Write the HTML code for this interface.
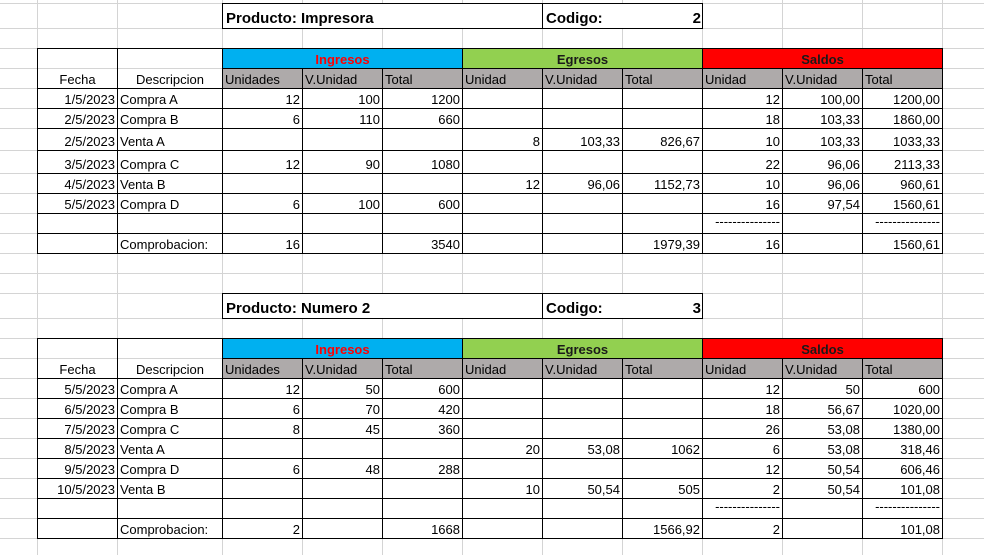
<!DOCTYPE html>
<html><head><meta charset="utf-8">
<style>
body{margin:0;width:984px;height:555px;overflow:hidden;background:#fff;position:relative;font-family:"Liberation Sans",Arial,sans-serif;font-size:13px;color:#000}
.g{position:absolute;background:#d4d4d4}
.c{position:absolute;box-sizing:border-box;display:flex;align-items:flex-end;padding:0 2px 1px 2px;white-space:nowrap;overflow:hidden;line-height:15px}
.r{justify-content:flex-end}.l{justify-content:flex-start}.m{justify-content:center}
</style></head>
<body>
<div id="sheet"></div>
<script>
const X=[0,37,117,222,302,382,462,542,622,702,782,862,942,984];
const Y=[-17,3,28,48,68,88,108,128,150,173,193,213,233,253,273,293,318,338,358,378,398,418,438,458,478,498,518,538,558];
const subHeaders=["Unidades","V.Unidad","Total","Unidad","V.Unidad","Total","Unidad","V.Unidad","Total"];
const groups=["Ingresos","Egresos","Saldos"];
const table1Rows=[
["1/5/2023","Compra A","12","100","1200","","","","12","100,00","1200,00"],
["2/5/2023","Compra B","6","110","660","","","","18","103,33","1860,00"],
["2/5/2023","Venta A","","","","8","103,33","826,67","10","103,33","1033,33"],
["3/5/2023","Compra C","12","90","1080","","","","22","96,06","2113,33"],
["4/5/2023","Venta B","","","","12","96,06","1152,73","10","96,06","960,61"],
["5/5/2023","Compra D","6","100","600","","","","16","97,54","1560,61"],
["","","","","","","","","---------------","","---------------"],
["","Comprobacion:","16","","3540","","","1979,39","16","","1560,61"]];
const table2Rows=[
["5/5/2023","Compra A","12","50","600","","","","12","50","600"],
["6/5/2023","Compra B","6","70","420","","","","18","56,67","1020,00"],
["7/5/2023","Compra C","8","45","360","","","","26","53,08","1380,00"],
["8/5/2023","Venta A","","","","20","53,08","1062","6","53,08","318,46"],
["9/5/2023","Compra D","6","48","288","","","","12","50,54","606,46"],
["10/5/2023","Venta B","","","","10","50,54","505","2","50,54","101,08"],
["","","","","","","","","---------------","","---------------"],
["","Comprobacion:","2","","1668","","","1566,92","2","","101,08"]];
const products=["Impresora","Numero 2"];
const codes=["2","3"];
const S=document.getElementById('sheet');
for(let i=1;i<X.length-1;i++){const d=document.createElement('div');d.className='g';d.style.cssText=`left:${X[i]}px;top:0;width:1px;height:555px`;


S.appendChild(d);}
for(let j=1;j<Y.length-1;j++){const d=document.createElement('div');d.className='g';d.style.cssText=`left:0;top:${Y[j]}px;width:984px;height:1px`;


S.appendChild(d);}
function cell(c1,c2,r1,r2,txt,cls,name,extra){
 const d=document.createElement('div');d.className='c '+cls;
 d.style.left=X[c1]+'px';d.style.top=Y[r1]+'px';
 d.style.width=(X[c2]-X[c1]+1)+'px';d.style.height=(Y[r2]-Y[r1]+1)+'px';
 if(extra)d.style.cssText+=extra;
 d.textContent=txt;
 
 
 S.appendChild(d);return d;}
function table(t,r0,rows){
 cell(3,9,r0,r0+1,'','l','title-box','border:1px solid #000;background:#fff;');
 cell(7,9,r0,r0+1,'','l','code-box','border-left:1px solid #000;');
 const tf='font-weight:bold;font-size:15px;padding-bottom:3px;overflow:visible;';
 cell(3,4,r0,r0+1,'Producto:','l','product-label',tf+'padding-left:4px;');
 cell(4,7,r0,r0+1,products[t],'l','product-name',tf+'padding-left:0;left:'+(X[3]+79)+'px;');
 cell(7,8,r0,r0+1,'Codigo:','l','code-label',tf+'padding-left:4px;');
 cell(8,9,r0,r0+1,codes[t],'r','code-value',tf);
 const h=r0+2;
 cell(1,2,h,h+2,'Fecha','m','fecha-header','border:1px solid #000;');
 cell(2,3,h,h+2,'Descripcion','m','descripcion-header','border:1px solid #000;');
 const gbg=['#00b0f0','#92d050','#ff0000'],gfg=['#ff0000','#1a1a1a','#1a1a1a'];
 for(let g=0;g<3;g++)cell(3+g*3,6+g*3,h,h+1,groups[g],'m','group-'+groups[g].toLowerCase(),`border:1px solid #000;background:${gbg[g]};color:${gfg[g]};font-weight:bold;font-size:13px;padding-bottom:1px;`);
 for(let k=0;k<9;k++)cell(3+k,4+k,h+1,h+2,subHeaders[k],'l','subheader-'+subHeaders[k].toLowerCase().replace('.','-'),'border:1px solid #000;background:#aeaaaa;');
 rows.forEach((row,i)=>{const r=h+2+i;
  row.forEach((v,k)=>{const c=1+k;const cls=(k===1)?'l':'r';
   const ex='border:1px solid #000;'+(v.startsWith('---')?'align-items:center;padding-bottom:4px;':'');
   cell(c,c+1,r,r+1,v,cls,'cell-r'+(i+1)+'-c'+(k+1),ex);});});
}
table(0,1,table1Rows);
table(1,15,table2Rows);
</script>
</body></html>
